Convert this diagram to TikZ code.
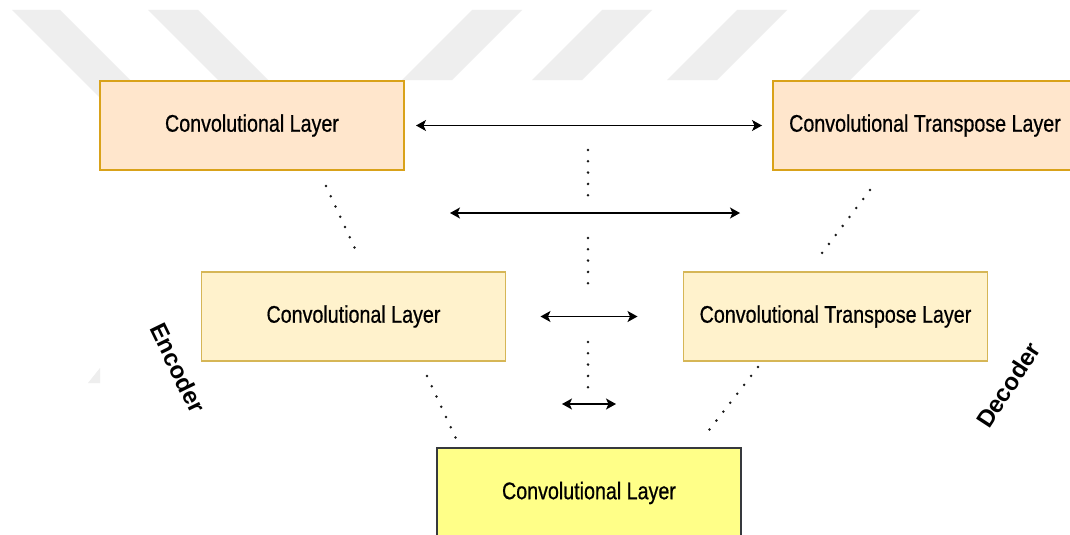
\documentclass[tikz,border=0pt]{standalone}
\usepackage{fontspec}
\newfontfamily\labfont[FakeStretch=0.82,FakeBold=0.6]{Liberation Sans}
\newfontfamily\sidefont{Liberation Sans}
\usetikzlibrary{arrows.meta}
\definecolor{wm}{RGB}{238,238,238}
\definecolor{peachfill}{HTML}{FFE6CC}
\definecolor{peachline}{HTML}{D9A21A}
\definecolor{creamfill}{HTML}{FFF2CC}
\definecolor{creamline}{HTML}{D6B656}
\definecolor{notefill}{HTML}{FFFF88}
\definecolor{noteline}{HTML}{36393D}
\begin{document}
\begin{tikzpicture}[x=1pt,y=-1pt,
  layerbox/.style={draw, line width=1.2pt, minimum width=304pt, minimum height=89pt,
    inner sep=0pt, outer sep=0pt, font=\labfont\fontsize{24}{28}\selectfont, text=black},
  peachbox/.style={layerbox, fill=peachfill, draw=peachline},
  creambox/.style={layerbox, fill=creamfill, draw=creamline},
  notebox/.style={layerbox, fill=notefill, draw=noteline, minimum height=90pt},
  biarrow/.style={line width=1.3pt, black,
    {Stealth[length=10pt,width=11pt,inset=2.5pt]}-{Stealth[length=10pt,width=11pt,inset=2.5pt]}},
  dotline/.style={line width=2.8pt, line cap=round, dash pattern=on 0pt off 11.3pt, black!90},
  sidelabel/.style={font=\sidefont\bfseries\fontsize{24}{27}\selectfont, inner sep=0pt}
]
\useasboundingbox (0,0) rectangle (1070,535);
\clip (0,0) rectangle (1070,535);
\fill[white] (0,0) rectangle (1070,535);
% watermark stripes
\fill[wm] (12,10) -- (60,10) -- (147,97) -- (99,97) -- cycle;
\fill[wm] (148,10) -- (198,10) -- (268,80) -- (218,80) -- cycle;
\fill[wm] (472,10) -- (522,10) -- (452,80) -- (402,80) -- cycle;
\fill[wm] (602,10) -- (652,10) -- (582,80) -- (532,80) -- cycle;
\fill[wm] (737,10) -- (787,10) -- (717,80) -- (667,80) -- cycle;
\fill[wm] (870,10) -- (920,10) -- (850,80) -- (800,80) -- cycle;
\fill[wm] (88,383) -- (100,368) -- (100,383) -- cycle;

% boxes
\node[peachbox] (A) at (252,125.5) {Convolutional Layer};
\node[peachbox] (B) at (925,125.5) {Convolutional Transpose Layer};
\node[creambox] (C) at (353.5,316.5) {Convolutional Layer};
\node[creambox] (D) at (835.5,316.5) {Convolutional Transpose Layer};
\node[notebox] (E) at (589,493) {Convolutional Layer};

% side labels
\node[sidelabel, rotate=-64] (enc) at (178,368) {Encoder};
\node[sidelabel, rotate=57] (dec) at (1008,385) {Decoder};

% arrows
\draw[biarrow, shorten <=12pt, shorten >=11pt] (A.east) -- (B.west);
\coordinate (a2l) at (450,213);
\coordinate (a2r) at (740,213);
\draw[biarrow] (a2l) -- (a2r);
\draw[biarrow, shorten <=35pt, shorten >=46pt] (C.east) -- (D.west);
\coordinate (a4l) at (562,404);
\coordinate (a4r) at (616,404);
\draw[biarrow] (a4l) -- (a4r);

% vertical dotted lines
\coordinate (v1t) at (588,150); \coordinate (v1b) at (588,198);
\coordinate (v2t) at (588,238); \coordinate (v2b) at (588,286);
\coordinate (v3t) at (588,342); \coordinate (v3b) at (588,390);
\draw[dotline] (v1t) -- (v1b);
\draw[dotline] (v2t) -- (v2b);
\draw[dotline] (v3t) -- (v3b);

% diagonal dotted lines
\coordinate (d1a) at (326,186); \coordinate (d1b) at (359,257);
\coordinate (d2a) at (870,190); \coordinate (d2b) at (819,257);
\coordinate (d3a) at (427,376); \coordinate (d3b) at (460,447);
\coordinate (d4a) at (758,367); \coordinate (d4b) at (706,434);
\draw[dotline] (d1a) -- (d1b);
\draw[dotline] (d2a) -- (d2b);
\draw[dotline] (d3a) -- (d3b);
\draw[dotline] (d4a) -- (d4b);
\end{tikzpicture}
\end{document}
